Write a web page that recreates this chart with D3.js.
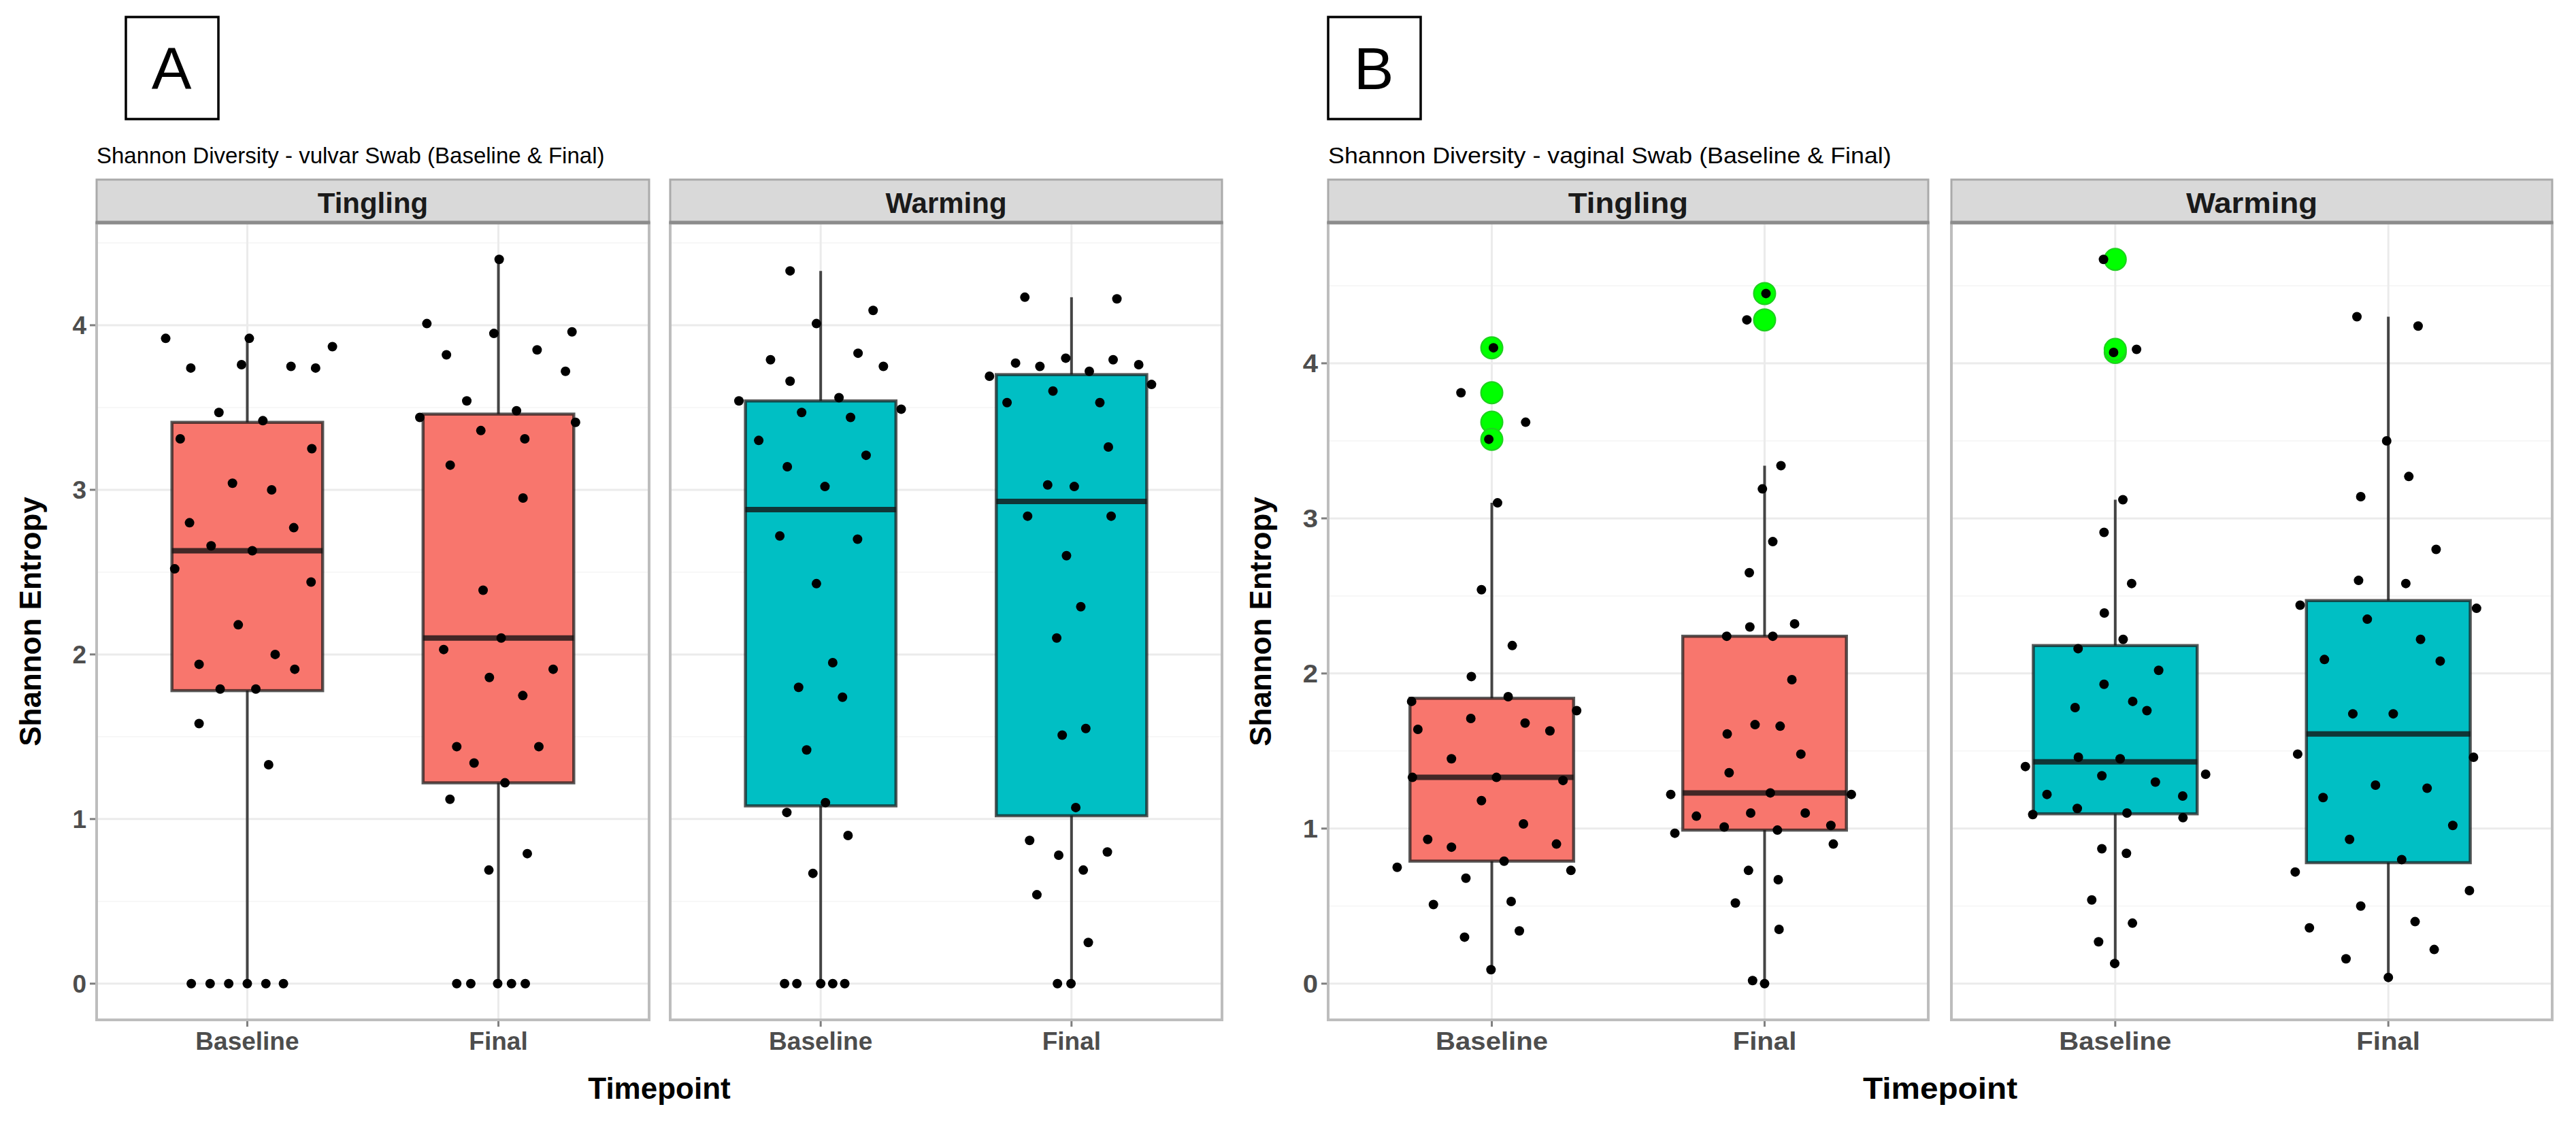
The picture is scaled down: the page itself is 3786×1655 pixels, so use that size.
<!DOCTYPE html>
<html>
<head>
<meta charset="utf-8">
<style>
  body { margin: 0; background: #fff; }
  svg { display: block; font-family: 'Liberation Sans', Arial, Helvetica, sans-serif; }
  .grid-major { stroke: #ebebeb; stroke-width: 3; }
  .grid-minor { stroke: #f5f5f5; stroke-width: 1.5; }
  .tick-label { font-size: 37px; font-weight: bold; fill: #4d4d4d; }
  .axis-title { font-size: 44px; font-weight: bold; fill: #000; }
  .strip-label { font-size: 42px; font-weight: bold; fill: #1a1a1a; }
  .subtitle { font-size: 33px; fill: #000; }
  .letter { font-size: 88px; fill: #000; }
</style>
</head>
<body>
<svg width="3786" height="1655"></svg>
<script src="https://d3js.org/d3.v7.min.js"></script>
<script>
// ---- data ----
const facets = ["Tingling", "Warming"];
const timepoints = ["Baseline", "Final"];
const yTicks = [0, 1, 2, 3, 4];
const yMinorTicks = [0.5, 1.5, 2.5, 3.5, 4.5];
const groupColors = ["#F8766D", "#F8766D", "#00BFC4", "#00BFC4"]; // Tingling, Tingling, Warming, Warming

// A: vulvar swab -- values and horizontal jitter (in category steps)
const vulvarTinglingBaseline = [3.92, 3.74, 3.92, 3.76, 3.75, 3.74, 3.87, 3.47, 3.42, 3.31, 3.25, 3.04, 3.00, 2.80, 2.77, 2.66, 2.63, 2.52, 2.44, 2.18, 2.00, 1.94, 1.91, 1.79, 1.79, 1.58, 1.33, 0, 0, 0, 0, 0, 0];
const vulvarTinglingBaselineJitter = [-0.325, -0.225, 0.008, -0.023, 0.174, 0.272, 0.339, -0.113, 0.062, -0.267, 0.257, -0.059, 0.097, -0.230, 0.185, -0.144, 0.020, -0.289, 0.254, -0.036, 0.111, -0.192, 0.189, -0.108, 0.034, -0.192, 0.085, -0.223, -0.148, -0.074, 0, 0.074, 0.144];
const vulvarTinglingFinal = [4.40, 4.01, 3.95, 3.96, 3.82, 3.85, 3.72, 3.54, 3.44, 3.48, 3.41, 3.36, 3.31, 3.15, 2.95, 2.39, 2.10, 2.03, 1.91, 1.86, 1.75, 1.44, 1.44, 1.34, 1.22, 1.12, 0.79, 0.69, 0, 0, 0, 0, 0];
const vulvarTinglingFinalJitter = [0.003, -0.285, -0.018, 0.293, -0.207, 0.154, 0.267, -0.126, -0.313, 0.072, 0.307, -0.070, 0.105, -0.192, 0.098, -0.061, 0.011, -0.218, 0.218, -0.036, 0.097, -0.166, 0.161, -0.097, 0.026, -0.193, 0.115, -0.038, -0.166, -0.110, -0.003, 0.052, 0.107];
const vulvarWarmingBaseline = [4.33, 4.01, 4.09, 3.79, 3.83, 3.75, 3.66, 3.54, 3.56, 3.49, 3.47, 3.44, 3.30, 3.21, 3.14, 3.02, 2.72, 2.70, 2.43, 1.95, 1.80, 1.74, 1.42, 1.10, 1.04, 0.90, 0.67, 0, 0, 0, 0, 0];
const vulvarWarmingBaselineJitter = [-0.122, -0.017, 0.209, -0.200, 0.149, 0.250, -0.122, -0.326, 0.073, 0.321, -0.076, 0.119, -0.247, 0.181, -0.133, 0.017, -0.163, 0.147, -0.017, 0.048, -0.088, 0.087, -0.056, 0.019, -0.135, 0.109, -0.031, -0.144, -0.095, 0, 0.048, 0.096];
const vulvarWarmingFinal = [4.17, 4.16, 3.77, 3.75, 3.80, 3.79, 3.76, 3.69, 3.72, 3.64, 3.60, 3.53, 3.53, 3.26, 3.03, 3.02, 2.84, 2.84, 2.60, 2.29, 2.10, 1.55, 1.51, 1.07, 0.87, 0.80, 0.78, 0.69, 0.54, 0.25, 0, 0];
const vulvarWarmingFinalJitter = [-0.186, 0.181, -0.223, -0.126, -0.023, 0.166, 0.268, -0.327, 0.071, 0.319, -0.074, -0.257, 0.113, 0.147, -0.095, 0.011, -0.175, 0.158, -0.020, 0.037, -0.059, 0.057, -0.037, 0.017, -0.167, 0.143, -0.051, 0.047, -0.138, 0.067, -0.056, -0.002];

// box summaries, order: Tingling-Baseline, Tingling-Final, Warming-Baseline, Warming-Final
const vulvarQ1 = [1.78, 1.22, 1.08, 1.02];
const vulvarMedian = [2.63, 2.10, 2.88, 2.93];
const vulvarQ3 = [3.41, 3.46, 3.54, 3.70];
const vulvarWhiskerLow = [0, 0, 0, 0];
const vulvarWhiskerHigh = [3.92, 4.40, 4.33, 4.17];

// B: vaginal swab
const vaginalTinglingBaseline = [4.10, 3.81, 3.62, 3.51, 3.10, 2.54, 2.18, 1.98, 1.82, 1.85, 1.76, 1.64, 1.71, 1.68, 1.63, 1.45, 1.33, 1.33, 1.31, 1.18, 1.03, 0.93, 0.88, 0.90, 0.79, 0.75, 0.73, 0.68, 0.53, 0.51, 0.34, 0.30, 0.09];
const vaginalTinglingBaselineJitter = [0.006, -0.113, 0.124, -0.011, 0.021, -0.038, 0.075, -0.075, -0.294, 0.060, 0.311, -0.271, -0.077, 0.122, 0.213, -0.148, -0.291, 0.017, 0.261, -0.038, 0.116, -0.235, -0.148, 0.237, 0.045, -0.347, 0.290, -0.095, 0.071, -0.214, 0.101, -0.100, -0.003];
const vaginalTinglingFinal = [4.45, 4.28, 3.34, 3.19, 2.85, 2.65, 2.30, 2.32, 2.24, 2.24, 1.96, 1.67, 1.66, 1.61, 1.48, 1.36, 1.22, 1.23, 1.22, 1.08, 1.10, 1.10, 1.01, 0.99, 1.02, 0.97, 0.90, 0.73, 0.67, 0.52, 0.35, 0.02, 0.00];
const vaginalTinglingFinalJitter = [0.005, -0.065, 0.060, -0.008, 0.030, -0.056, -0.054, 0.110, -0.139, 0.030, 0.100, -0.035, 0.057, -0.137, 0.133, -0.130, -0.344, 0.021, 0.318, -0.250, -0.051, 0.149, -0.148, 0.047, 0.243, -0.329, 0.252, -0.059, 0.050, -0.107, 0.053, -0.044, 0];
const vaginalWarmingBaseline = [4.67, 4.07, 4.09, 3.12, 2.91, 2.58, 2.39, 2.22, 2.16, 2.02, 1.93, 1.78, 1.82, 1.76, 1.46, 1.45, 1.40, 1.35, 1.34, 1.30, 1.22, 1.21, 1.13, 1.09, 1.10, 1.07, 0.87, 0.84, 0.54, 0.39, 0.27, 0.13];
const vaginalWarmingBaselineJitter = [-0.043, -0.006, 0.078, 0.028, -0.041, 0.060, -0.040, 0.029, -0.136, 0.159, -0.041, -0.147, 0.064, 0.116, -0.135, 0.018, -0.329, 0.331, -0.049, 0.147, -0.250, 0.247, -0.139, -0.302, 0.043, 0.248, -0.049, 0.041, -0.086, 0.063, -0.061, -0.002];
const vaginalWarmingFinal = [4.30, 4.24, 3.50, 3.27, 3.14, 2.80, 2.60, 2.58, 2.44, 2.42, 2.35, 2.22, 2.09, 2.08, 1.74, 1.74, 1.48, 1.46, 1.28, 1.26, 1.20, 1.02, 0.93, 0.80, 0.72, 0.60, 0.50, 0.40, 0.36, 0.22, 0.16, 0.04];
const vaginalWarmingFinalJitter = [-0.115, 0.109, -0.006, 0.075, -0.101, 0.175, -0.109, 0.064, -0.323, 0.323, -0.077, 0.118, -0.234, 0.190, -0.130, 0.018, -0.332, 0.312, -0.047, 0.142, -0.239, 0.236, -0.142, 0.049, -0.341, 0.297, -0.101, 0.098, -0.289, 0.168, -0.155, 0];

const vaginalQ1 = [0.79, 0.99, 1.095, 0.78];
const vaginalMedian = [1.33, 1.23, 1.43, 1.61];
const vaginalQ3 = [1.84, 2.24, 2.18, 2.47];
const vaginalWhiskerLow = [0.09, 0.00, 0.13, 0.04];
const vaginalWhiskerHigh = [3.10, 3.34, 3.12, 4.30];

// ---- layout ----
const svg = d3.select("svg");
const stripTop = 264, plotTop = 328, plotBottom = 1499;
const boxWidthFrac = 0.6;

const figures = [
    {
        letter: "A", boxX: 185, sx: 1,
        subtitle: "Shannon Diversity - vulvar Swab (Baseline & Final)",
        panels: [[142, 954], [985, 1796]], yTitleX: 44,
        values: [vulvarTinglingBaseline, vulvarTinglingFinal, vulvarWarmingBaseline, vulvarWarmingFinal],
        jitter: [vulvarTinglingBaselineJitter, vulvarTinglingFinalJitter, vulvarWarmingBaselineJitter, vulvarWarmingFinalJitter],
        q1: vulvarQ1, med: vulvarMedian, q3: vulvarQ3, lo: vulvarWhiskerLow, hi: vulvarWhiskerHigh
    },
    {
        letter: "B", boxX: 1952, sx: 1.085,
        subtitle: "Shannon Diversity - vaginal Swab (Baseline & Final)",
        panels: [[1952, 2834], [2868, 3751]], yTitleX: 1852,
        values: [vaginalTinglingBaseline, vaginalTinglingFinal, vaginalWarmingBaseline, vaginalWarmingFinal],
        jitter: [vaginalTinglingBaselineJitter, vaginalTinglingFinalJitter, vaginalWarmingBaselineJitter, vaginalWarmingFinalJitter],
        q1: vaginalQ1, med: vaginalMedian, q3: vaginalQ3, lo: vaginalWhiskerLow, hi: vaginalWhiskerHigh
    }
];

function addText(g, x, y, str, cls, anchor, sx) {
    return g.append("text")
        .attr("class", cls)
        .attr("text-anchor", anchor)
        .attr("transform", `translate(${x},${y}) scale(${sx},1)`)
        .text(str);
}

figures.forEach(fig => {
    let g = svg.append("g");

    // panel letter box
    g.append("rect")
        .attr("x", fig.boxX).attr("y", 25)
        .attr("width", 136).attr("height", 150)
        .attr("fill", "none").attr("stroke", "#000").attr("stroke-width", 3.5);
    addText(g, fig.boxX + 67, 131, fig.letter, "letter", "middle", 1);

    addText(g, fig.panels[0][0], 240, fig.subtitle, "subtitle", "start", fig.sx);

    let allValues = fig.values.flat();
    let [ymin, ymax] = d3.extent(allValues);
    let pad = (ymax - ymin) * 0.05;
    let y = d3.scaleLinear()
        .domain([ymin - pad, ymax + pad])
        .range([plotBottom, plotTop]);

    fig.panels.forEach((range, fi) => {
        let [left, right] = range;
        let x = d3.scalePoint()
            .domain(timepoints)
            .range([left, right])
            .padding(0.6);
        let step = x.step();
        let bw = step * boxWidthFrac;
        let p = g.append("g");

        // grid
        p.selectAll(".grid-minor")
            .data(yMinorTicks.filter(v => y(v) > plotTop))
            .join("line")
            .attr("class", "grid-minor")
            .attr("x1", left).attr("x2", right)
            .attr("y1", d => y(d)).attr("y2", d => y(d));
        p.selectAll(".grid-major.h")
            .data(yTicks)
            .join("line")
            .attr("class", "grid-major h")
            .attr("x1", left).attr("x2", right)
            .attr("y1", d => y(d)).attr("y2", d => y(d));
        p.selectAll(".grid-major.v")
            .data(timepoints)
            .join("line")
            .attr("class", "grid-major v")
            .attr("x1", d => x(d)).attr("x2", d => x(d))
            .attr("y1", plotTop).attr("y2", plotBottom);

        timepoints.forEach((tp, ti) => {
            let k = fi * 2 + ti;
            let cx = x(tp);
            let vals = fig.values[k];
            let jit = fig.jitter[k];

            // whiskers
            p.append("line")
                .attr("x1", cx).attr("x2", cx)
                .attr("y1", y(fig.hi[k])).attr("y2", y(fig.q3[k]))
                .attr("stroke", "#444").attr("stroke-width", 4);
            p.append("line")
                .attr("x1", cx).attr("x2", cx)
                .attr("y1", y(fig.q1[k])).attr("y2", y(fig.lo[k]))
                .attr("stroke", "#444").attr("stroke-width", 4);
            // box
            p.append("rect")
                .attr("x", cx - bw / 2).attr("width", bw)
                .attr("y", y(fig.q3[k]))
                .attr("height", y(fig.q1[k]) - y(fig.q3[k]))
                .attr("fill", groupColors[k])
                .attr("stroke", "rgba(25,25,25,0.72)").attr("stroke-width", 4.5);
            p.append("line")
                .attr("x1", cx - bw / 2).attr("x2", cx + bw / 2)
                .attr("y1", y(fig.med[k])).attr("y2", y(fig.med[k]))
                .attr("stroke", "rgba(20,20,20,0.8)").attr("stroke-width", 8);

            // outliers (beyond whiskers) in green
            let outliers = vals.filter(v => v > fig.hi[k] + 0.05 || v < fig.lo[k] - 0.05);
            p.selectAll(null)
                .data(outliers)
                .join("circle")
                .attr("cx", cx).attr("cy", d => y(d))
                .attr("r", 16)
                .attr("fill", "#00FF00")
                .attr("stroke", "#1fd01f").attr("stroke-width", 2);

            // jittered points
            p.selectAll(null)
                .data(vals.map((v, i) => ({ v: v, j: jit[i] })))
                .join("circle")
                .attr("cx", d => cx + d.j * step)
                .attr("cy", d => y(d.v))
                .attr("r", 7)
                .attr("fill", "#000");
        });

        // panel border
        p.append("rect")
            .attr("x", left).attr("y", plotTop)
            .attr("width", right - left).attr("height", plotBottom - plotTop)
            .attr("fill", "none").attr("stroke", "#bdbdbd").attr("stroke-width", 4);

        // strip
        p.append("rect")
            .attr("x", left).attr("y", stripTop)
            .attr("width", right - left).attr("height", plotTop - stripTop)
            .attr("fill", "#d9d9d9").attr("stroke", "#aaaaaa").attr("stroke-width", 3);
        p.append("line")
            .attr("x1", left - 1.5).attr("x2", right + 1.5)
            .attr("y1", plotTop - 1).attr("y2", plotTop - 1)
            .attr("stroke", "#8c8c8c").attr("stroke-width", 5);
        addText(p, (left + right) / 2, 313, facets[fi], "strip-label", "middle", fig.sx);

        // x axis ticks and labels
        timepoints.forEach(tp => {
            p.append("line")
                .attr("x1", x(tp)).attr("x2", x(tp))
                .attr("y1", plotBottom + 2).attr("y2", plotBottom + 10)
                .attr("stroke", "#7f7f7f").attr("stroke-width", 3);
            addText(p, x(tp), 1543, tp, "tick-label", "middle", fig.sx);
        });

        // y axis only on first facet
        if (fi === 0) {
            yTicks.forEach(v => {
                p.append("line")
                    .attr("x1", left - 10).attr("x2", left - 2)
                    .attr("y1", y(v)).attr("y2", y(v))
                    .attr("stroke", "#7f7f7f").attr("stroke-width", 3);
                addText(p, left - 15, y(v) + 13, String(v), "tick-label", "end", fig.sx);
            });
        }
    });

    // axis titles
    addText(g, (fig.panels[0][0] + fig.panels[1][1]) / 2, 1615, "Timepoint", "axis-title", "middle", fig.sx);
    g.append("text")
        .attr("class", "axis-title")
        .attr("text-anchor", "middle")
        .attr("transform", `translate(${fig.yTitleX + 16},${(plotTop + plotBottom) / 2}) rotate(-90)`)
        .text("Shannon Entropy");
});
</script>
</body>
</html>
